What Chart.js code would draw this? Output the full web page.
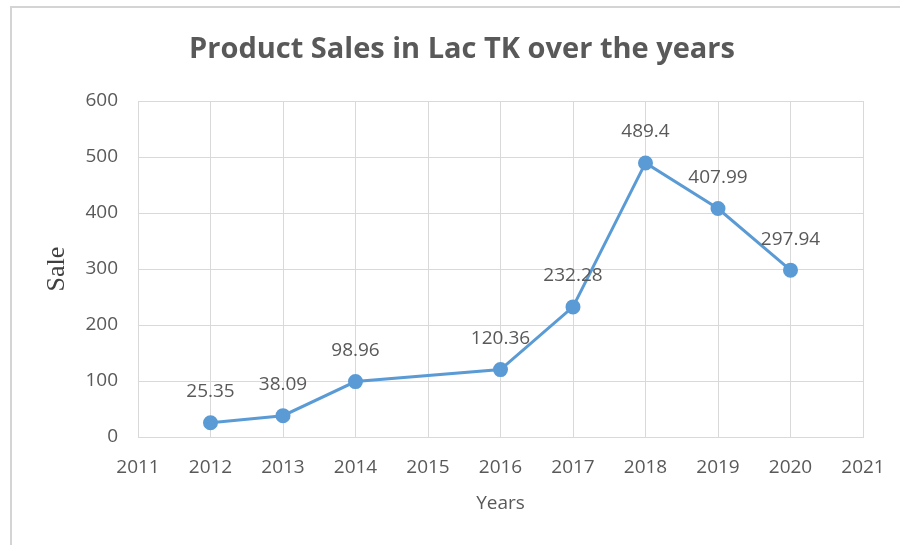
<!DOCTYPE html>
<html>
<head>
<meta charset="utf-8">
<script src="https://cdn.jsdelivr.net/npm/chart.js@4"></script>
<style>
  html, body { margin: 0; padding: 0; background: #ffffff; }
  #wrap { width: 900px; height: 545px; position: relative; }
</style>
</head>
<body>
<div id="wrap"><canvas id="chart" width="900" height="545"></canvas></div>
<script>
// Yearly product sales (Lac TK)
const years = [2012, 2013, 2014, 2016, 2017, 2018, 2019, 2020];
const sales = [25.35, 38.09, 98.96, 120.36, 232.28, 489.4, 407.99, 297.94];
const yearTicks = [2011, 2012, 2013, 2014, 2015, 2016, 2017, 2018, 2019, 2020, 2021];
const saleTicks = [0, 100, 200, 300, 400, 500, 600];
const chartTitle = 'Product Sales in Lac TK over the years';

const TEXT = '#595959';
const GRID = '#d9d9d9';
const LINE = '#5b9bd5';
const SANS = '"Open Sans", "DejaVu Sans", sans-serif';

// Background, frame around the chart object and the heading
const framePlugin = {
  id: 'frame',
  beforeDraw(chart) {
    const ctx = chart.ctx;
    ctx.save();
    ctx.fillStyle = '#ffffff';
    ctx.fillRect(0, 0, chart.width, chart.height);
    ctx.strokeStyle = '#d4d4d4';
    ctx.lineWidth = 2;
    ctx.strokeRect(11, 7, chart.width + 20, chart.height + 20);
    ctx.font = 'bold 29px ' + SANS;
    ctx.fillStyle = TEXT;
    ctx.textAlign = 'center';
    ctx.textBaseline = 'middle';
    ctx.fillText(chartTitle, 462, 50);
    ctx.restore();
  }
};

// Value labels above each point
const valueLabels = {
  id: 'valueLabels',
  afterDatasetsDraw(chart) {
    const ctx = chart.ctx;
    const meta = chart.getDatasetMeta(0);
    ctx.save();
    ctx.font = '19px ' + SANS;
    ctx.fillStyle = TEXT;
    ctx.textAlign = 'center';
    ctx.textBaseline = 'middle';
    meta.data.forEach((pt, i) => {
      ctx.fillText(String(sales[i]), pt.x, pt.y - 31);
    });
    ctx.restore();
  }
};

new Chart(document.getElementById('chart'), {
  type: 'line',
  data: {
    datasets: [{
      data: years.map((y, i) => ({ x: y, y: sales[i] })),
      borderColor: LINE,
      backgroundColor: LINE,
      borderWidth: 3,
      pointRadius: 6,
      pointHoverRadius: 6,
      pointBackgroundColor: LINE,
      pointBorderColor: LINE,
      tension: 0,
      fill: false
    }]
  },
  options: {
    responsive: false,
    animation: false,
    events: [],
    layout: { padding: { left: 0, right: 37, top: 101, bottom: 0 } },
    plugins: {
      legend: { display: false },
      tooltip: { enabled: false },
      title: { display: false }
    },
    scales: {
      x: {
        type: 'linear',
        min: yearTicks[0],
        max: yearTicks[yearTicks.length - 1],
        afterBuildTicks(scale) { scale.ticks = yearTicks.map(v => ({ value: v })); },
        afterFit(scale) {
          scale.height = 108;
          scale.paddingLeft = 0;
          scale.paddingRight = 0;
        },
        grid: { color: GRID, lineWidth: 1, drawTicks: false },
        border: { color: GRID, width: 1 },
        ticks: {
          color: TEXT,
          font: { family: SANS, size: 19 },
          padding: 19,
          callback: v => String(v)
        },
        title: {
          display: true,
          text: 'Years',
          color: TEXT,
          font: { family: SANS, size: 19 },
          padding: { top: 0, bottom: 30 }
        }
      },
      y: {
        min: saleTicks[0],
        max: saleTicks[saleTicks.length - 1],
        afterBuildTicks(scale) { scale.ticks = saleTicks.map(v => ({ value: v })); },
        afterFit(scale) {
          scale.width = 138;
          scale.paddingTop = 0;
          scale.paddingBottom = 0;
        },
        grid: { color: GRID, lineWidth: 1, drawTicks: false },
        border: { color: GRID, width: 1 },
        ticks: {
          color: TEXT,
          font: { family: SANS, size: 19 },
          padding: 20,
          callback: v => String(v)
        },
        title: {
          display: true,
          text: 'Sale',
          color: '#404040',
          font: { family: '"Liberation Serif", "DejaVu Serif", serif', size: 26, lineHeight: 1.2 },
          padding: { top: 42, bottom: 0 }
        }
      }
    }
  },
  plugins: [framePlugin, valueLabels]
});
</script>
</body>
</html>
